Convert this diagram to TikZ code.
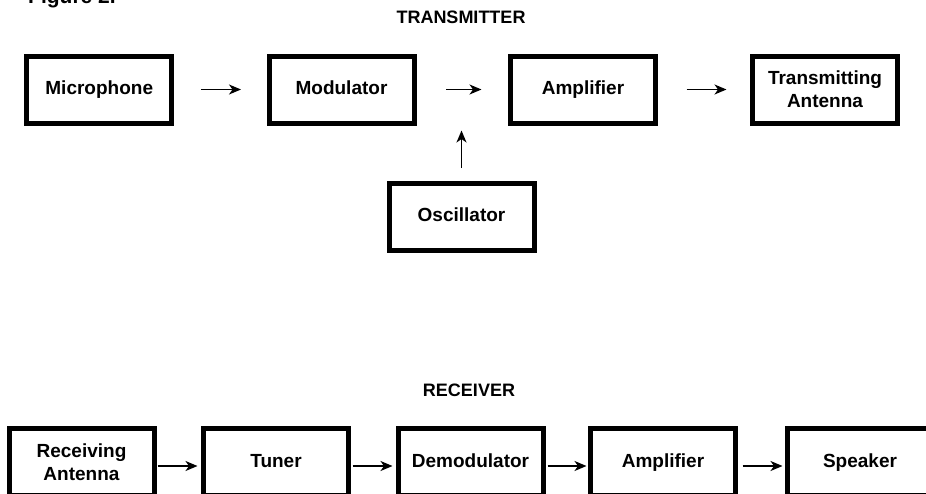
\documentclass[tikz,border=0pt]{standalone}
\usepackage{fontspec}
\setmainfont{Liberation Sans}
\usetikzlibrary{arrows.meta}
\begin{document}
\begin{tikzpicture}[x=1pt,y=-1pt,
  block/.style={draw, line width=5pt, minimum width=145pt, minimum height=67pt,
    inner sep=0pt, outer sep=0pt, align=center, text height=14pt, text depth=4pt,
    font=\fontsize{19}{23}\selectfont\bfseries},
  tallblock/.style={block, text height=, text depth=},
  flow/.style={-{Stealth[length=12pt,width=10pt,inset=3.5pt]}, line width=1.6pt},
  heading/.style={inner sep=0pt, font=\fontsize{18}{20}\selectfont\bfseries}]
\clip (0,0) rectangle (926,493);

% caption (runs off the top edge)
\node[anchor=base west, inner sep=0pt, font=\fontsize{21}{21}\selectfont\bfseries]
  (fig) at (28,3) {Figure 2.};

% ---- transmitter chain ----
\node[heading] (txtitle) at (461,17) {TRANSMITTER};
\node[block] (mic) at (99.25,89.5) {Microphone};
\node[block] (mod) at (341.5,89.5) {Modulator};
\node[block] (amp) at (583,89.5) {Amplifier};
\node[tallblock] (ant) at (825,89.5) {Transmitting\\Antenna};
\node[block] (osc) at (461.5,216.5) {Oscillator};
\coordinate (mix) at (461.5,89.5);

\draw[flow, shorten <=29pt, shorten >=28pt] (mic.east) -- (mod.west);
\draw[flow, shorten <=32pt, shorten >=29pt] (mod.east) -- (amp.west);
\draw[flow, shorten <=31pt, shorten >=26pt] (amp.east) -- (ant.west);
\draw[flow, shorten <=15pt, shorten >=41pt] (osc.north) -- (mix);

% ---- receiver chain ----
\node[heading] (rxtitle) at (469,390) {RECEIVER};
\node[tallblock] (rant) at (81.5,462) {Receiving\\Antenna};
\node[block] (tun) at (276,462) {Tuner};
\node[block] (dem) at (470.5,462) {Demodulator};
\node[block] (amp2) at (663,462) {Amplifier};
\node[block] (spk) at (860,462) {Speaker};

\draw[flow, shorten <=3.5pt, shorten >=6pt] ([yshift=-4pt]rant.east) -- ([yshift=-4pt]tun.west);
\draw[flow, shorten <=4pt, shorten >=5.5pt] ([yshift=-4pt]tun.east) -- ([yshift=-4pt]dem.west);
\draw[flow, shorten <=4.5pt, shorten >=4pt] ([yshift=-4pt]dem.east) -- ([yshift=-4pt]amp2.west);
\draw[flow, shorten <=7pt, shorten >=5pt] ([yshift=-4pt]amp2.east) -- ([yshift=-4pt]spk.west);
\end{tikzpicture}
\end{document}
